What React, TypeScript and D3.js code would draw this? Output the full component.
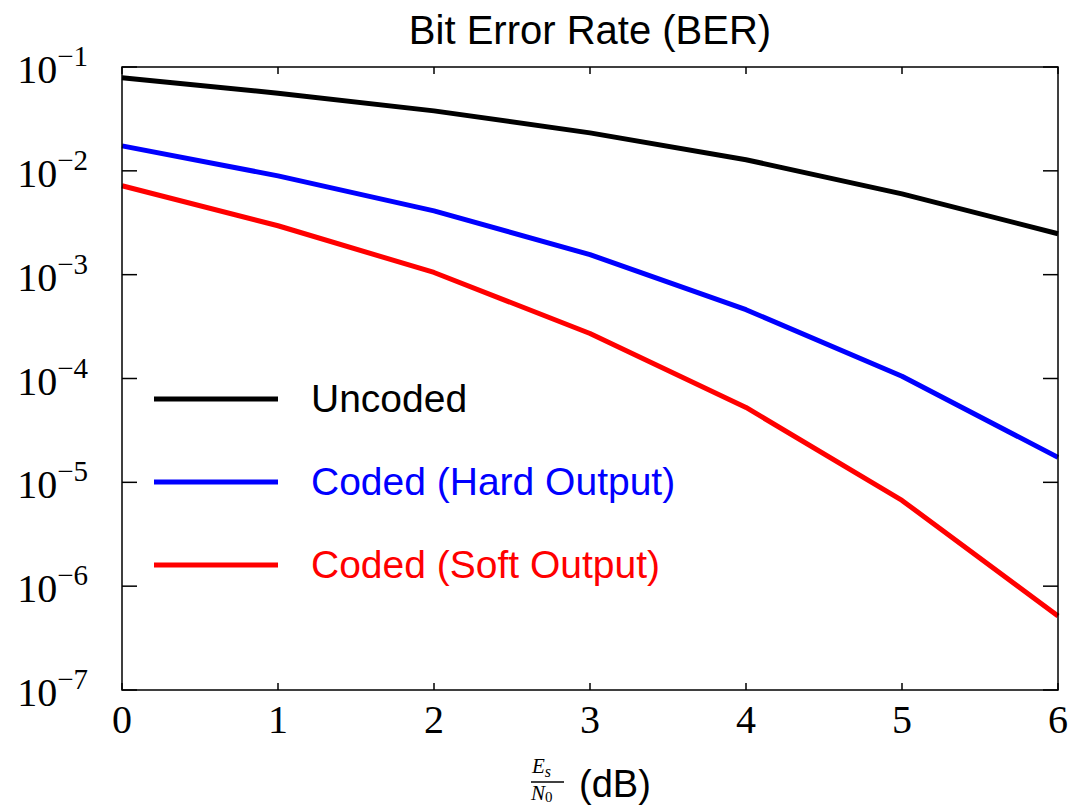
import React from "react";
import * as d3 from "d3";

// Es/N0 in dB
const snr = [0, 1, 2, 3, 4, 5, 6];

// BER values
const uncoded = [0.0789, 0.056, 0.0378, 0.0232, 0.0128, 0.006, 0.00248];
const hardOutput = [0.0174, 0.00895, 0.00412, 0.00156, 4.6e-4, 1.05e-4, 1.74e-5];
const softOutput = [0.00718, 0.00296, 0.00105, 2.71e-4, 5.26e-5, 6.7e-6, 5.15e-7];

const seriesNames = ["Uncoded", "Coded (Hard Output)", "Coded (Soft Output)"];
const seriesColors = ["#000000", "#0000ff", "#ff0000"];

const yExponents = [-1, -2, -3, -4, -5, -6, -7];

const W = 1070;
const H = 808;
const margin = { top: 67, right: 12, bottom: 118, left: 122 };

export default function App() {
  const innerW = W - margin.left - margin.right;
  const innerH = H - margin.top - margin.bottom;

  const x = d3.scaleLinear().domain([0, 6]).range([0, innerW]);
  const y = d3.scaleLog().domain([1e-7, 1e-1]).range([innerH, 0]);

  const line = d3
    .line<number>()
    .x((_, i) => x(snr[i]))
    .y((d) => y(d));

  const series = [uncoded, hardOutput, softOutput];

  const serif = "'Liberation Serif', 'Times New Roman', serif";
  const sans = "'Liberation Sans', Arial, Helvetica, sans-serif";

  return (
    <svg width={W} height={H} style={{ position: "absolute", left: 0, top: 0 }}>
      <rect width={W} height={H} fill="#fff" />
      <text x={590} y={44} textAnchor="middle" fontFamily={sans} fontSize={40}>
        Bit Error Rate (BER)
      </text>
      <g transform={`translate(${margin.left},${margin.top})`}>
        {/* y ticks, mirrored */}
        {yExponents.map((e) => (
          <g key={e} transform={`translate(0,${y(Math.pow(10, e))})`}>
            <line x1={0} x2={15} stroke="#000" strokeWidth={1.5} />
            <line x1={innerW - 15} x2={innerW} stroke="#000" strokeWidth={1.5} />
            <text x={-34} y={16} textAnchor="end" fontFamily={serif} fontSize={40}>
              10
              <tspan dy={-17} fontSize={29}>
                −{-e}
              </tspan>
            </text>
          </g>
        ))}
        {/* x ticks, mirrored */}
        {snr.map((v) => (
          <g key={v} transform={`translate(${x(v)},0)`}>
            <line y1={innerH} y2={innerH - 7} stroke="#000" strokeWidth={1.5} />
            <line y1={0} y2={7} stroke="#000" strokeWidth={1.5} />
            <text y={innerH + 43} textAnchor="middle" fontFamily={serif} fontSize={40}>
              {v}
            </text>
          </g>
        ))}
        {series.map((s, i) => (
          <path
            key={seriesNames[i]}
            d={line(s) ?? ""}
            fill="none"
            stroke={seriesColors[i]}
            strokeWidth={5}
            strokeLinejoin="round"
          />
        ))}
        <rect width={innerW} height={innerH} fill="none" stroke="#000" strokeWidth={1.5} />
        {/* legend */}
        {seriesNames.map((name, i) => (
          <g key={name} transform={`translate(32,${332 + i * 83})`}>
            <line x1={0} x2={124} stroke={seriesColors[i]} strokeWidth={5} />
            <text x={157} y={13} fill={seriesColors[i]} fontFamily={sans} fontSize={39}>
              {name}
            </text>
          </g>
        ))}
      </g>
      {/* x label: Es/N0 (dB) */}
      <g fontFamily={serif} fontStyle="italic">
        <text x={532} y={773} fontSize={21}>
          E
          <tspan fontSize={16} dy={4}>s</tspan>
        </text>
        <line x1={531} x2={564} y1={782} y2={782} stroke="#000" strokeWidth={1.5} />
        <text x={531} y={800} fontSize={21}>
          N
          <tspan fontSize={15} fontStyle="normal" dy={2}>0</tspan>
        </text>
      </g>
      <text x={579} y={797} fontFamily={sans} fontSize={38}>
        (dB)
      </text>
    </svg>
  );
}
